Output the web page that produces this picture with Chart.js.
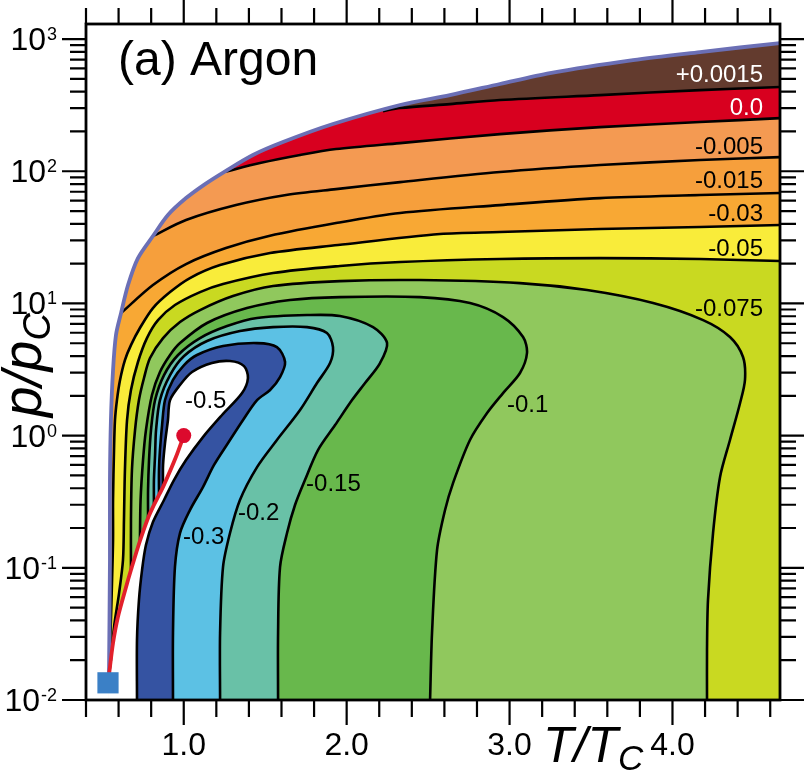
<!DOCTYPE html>
<html>
<head>
<meta charset="utf-8">
<title>Argon</title>
<script src="https://cdn.jsdelivr.net/npm/chart.js@4.4.1/dist/chart.umd.min.js"></script>
<style>
  html, body { margin: 0; padding: 0; background: #fff; }
  canvas { display: block; }
</style>
</head>
<body>
<canvas id="chart" width="804" height="781"></canvas>
<script>
// Values: each point is [T/Tc, log10(p/pc)]

// axis ranges and ticks
const xMin = 0.4, xMax = 4.66;
const yMin = 0.01, yMax = 1300;
const xMajorTicks = [1, 2, 3, 4];
const xTickLabels = ['1.0', '2.0', '3.0', '4.0'];
const xMinorTicks = [0.4, 0.6, 0.8, 1.2, 1.4, 1.6, 1.8, 2.2, 2.4, 2.6, 2.8, 3.2, 3.4, 3.6, 3.8, 4.2, 4.4, 4.6];
const yMajorTicks = [0.01, 0.1, 1, 10, 100, 1000];
const yTickExponents = ['-2', '-1', '0', '1', '2', '3'];

// upper boundary (melting line) and the vapour pressure line
const envelope = [[0.541, -1.811], [0.547, -0.941], [0.547, -0.336], [0.553, 0.118], [0.566, 0.496], [0.584, 0.761],
  [0.615, 0.927], [0.658, 1.139], [0.719, 1.343], [0.811, 1.510], [0.903, 1.669], [1.014, 1.797], [1.131, 1.903],
  [1.247, 1.994], [1.425, 2.123], [1.609, 2.221], [1.916, 2.357], [2.328, 2.501], [2.634, 2.576], [2.941, 2.660],
  [3.248, 2.743], [3.758, 2.841], [4.169, 2.902], [4.660, 2.970]];
const satLine = [[0.541, -1.811], [0.566, -1.569], [0.596, -1.372], [0.646, -1.145], [0.676, -1.017], [0.731, -0.797],
  [0.781, -0.623], [0.817, -0.525], [0.848, -0.449], [0.873, -0.389], [0.952, -0.162], [1.0, 0.0]];
const triplePoint = [0.535, -1.87];
const criticalPoint = [1.0, 0.0];

// contour lines, top to bottom
const c0015 = [[2.223, 2.455], [2.328, 2.478], [2.634, 2.508], [2.941, 2.539], [3.555, 2.576], [4.169, 2.614], [4.660, 2.637]];
const c0 = [[1.247, 1.994], [1.468, 2.062], [1.714, 2.123], [1.935, 2.168], [2.328, 2.213], [2.941, 2.281], [3.555, 2.334],
  [4.169, 2.372], [4.660, 2.402]];
const c005 = [[0.811, 1.510], [1.014, 1.631], [1.321, 1.744], [1.628, 1.820], [1.935, 1.865], [2.328, 1.918], [2.941, 1.994],
  [3.555, 2.047], [4.169, 2.085], [4.660, 2.107]];
const c015 = [[0.615, 0.927], [0.811, 1.139], [1.014, 1.298], [1.259, 1.419], [1.523, 1.510], [1.935, 1.608], [2.328, 1.684],
  [2.941, 1.744], [3.555, 1.797], [4.169, 1.820], [4.660, 1.835]];
const c03 = [[0.541, -1.811], [0.547, -1.622], [0.553, -1.395], [0.560, -1.092], [0.566, -0.790], [0.566, -0.487],
  [0.572, -0.109], [0.578, 0.118], [0.590, 0.269], [0.609, 0.421], [0.639, 0.572], [0.676, 0.685], [0.731, 0.814],
  [0.811, 0.965], [0.916, 1.086], [1.038, 1.192], [1.223, 1.290], [1.530, 1.381], [1.947, 1.442], [2.573, 1.525],
  [2.941, 1.540], [3.555, 1.563], [4.169, 1.578], [4.660, 1.593]];
const c05 = [[0.541, -1.811], [0.553, -1.697], [0.572, -1.448], [0.603, -1.191], [0.627, -0.941], [0.633, -0.638],
  [0.639, -0.260], [0.652, 0.118], [0.676, 0.345], [0.719, 0.557], [0.774, 0.738], [0.842, 0.874], [0.946, 0.988],
  [1.100, 1.086], [1.241, 1.147], [1.548, 1.230], [1.959, 1.283], [2.328, 1.313], [2.941, 1.336], [3.555, 1.343],
  [4.169, 1.336], [4.660, 1.321]];
const c075 = [[0.676, -1.017], [0.676, -0.638], [0.682, -0.260], [0.701, 0.042], [0.725, 0.269], [0.756, 0.436],
  [0.793, 0.587], [0.873, 0.738], [0.977, 0.859], [1.100, 0.950], [1.302, 1.056], [1.548, 1.132], [1.959, 1.169],
  [2.450, 1.177], [3.064, 1.154], [3.476, 1.101], [3.881, 1.003], [4.188, 0.874], [4.353, 0.746], [4.433, 0.595],
  [4.445, 0.421], [4.415, 0.247], [4.353, -0.033], [4.292, -0.313], [4.249, -0.737], [4.218, -1.244], [4.212, -1.622],
  [4.212, -2.0]];
const c10 = [[0.731, -0.797], [0.735, -0.487], [0.750, -0.185], [0.768, 0.042], [0.805, 0.307], [0.854, 0.481],
  [0.916, 0.610], [0.977, 0.700], [1.143, 0.852], [1.388, 0.965], [1.652, 1.026], [1.959, 1.048], [2.450, 1.048],
  [2.757, 1.003], [2.960, 0.897], [3.083, 0.746], [3.107, 0.625], [3.064, 0.474], [2.960, 0.322], [2.862, 0.171],
  [2.757, -0.033], [2.653, -0.359], [2.604, -0.563], [2.555, -0.865], [2.524, -1.493], [2.512, -2.0]];
const c15 = [[0.781, -0.623], [0.781, -0.412], [0.787, -0.185], [0.799, 0.042], [0.824, 0.269], [0.879, 0.458],
  [0.965, 0.610], [1.100, 0.738], [1.266, 0.829], [1.450, 0.890], [1.757, 0.912], [1.959, 0.905], [2.162, 0.821],
  [2.248, 0.700], [2.205, 0.549], [2.113, 0.398], [2.033, 0.269], [1.929, 0.080], [1.824, -0.109], [1.744, -0.336],
  [1.683, -0.525], [1.634, -0.737], [1.591, -0.994], [1.579, -1.493], [1.579, -2.0]];
const c20 = [[0.817, -0.525], [0.817, -0.336], [0.824, -0.147], [0.830, 0.042], [0.854, 0.269], [0.916, 0.458],
  [1.002, 0.602], [1.143, 0.716], [1.345, 0.791], [1.548, 0.821], [1.757, 0.821], [1.879, 0.776], [1.916, 0.670],
  [1.898, 0.549], [1.818, 0.398], [1.714, 0.194], [1.572, -0.033], [1.450, -0.238], [1.345, -0.487], [1.284, -0.737],
  [1.241, -0.994], [1.223, -1.493], [1.223, -2.0]];
const c30 = [[0.848, -0.449], [0.848, -0.260], [0.854, -0.109], [0.867, 0.080], [0.885, 0.269], [0.934, 0.421],
  [1.002, 0.534], [1.081, 0.610], [1.241, 0.678], [1.450, 0.700], [1.572, 0.670], [1.622, 0.557], [1.591, 0.443],
  [1.530, 0.345], [1.450, 0.269], [1.364, 0.118], [1.272, -0.056], [1.186, -0.222], [1.118, -0.389], [1.038, -0.563],
  [0.977, -0.737], [0.946, -0.994], [0.934, -1.493], [0.934, -2.0]];
const c50 = [[0.873, -0.389], [0.873, -0.222], [0.885, -0.056], [0.903, 0.118], [0.916, 0.269], [0.977, 0.383],
  [1.051, 0.481], [1.173, 0.549], [1.284, 0.564], [1.370, 0.526], [1.394, 0.436], [1.358, 0.322], [1.235, 0.156],
  [1.118, -0.011], [1.014, -0.185], [0.940, -0.336], [0.879, -0.487], [0.811, -0.654], [0.768, -0.828], [0.744, -1.017],
  [0.725, -1.244], [0.713, -1.546], [0.713, -2.0]];

// contour labels and where they sit
const labelText = ['+0.0015', '0.0', '-0.005', '-0.015', '-0.03', '-0.05', '-0.075', '-0.1', '-0.15', '-0.2', '-0.3', '-0.5'];
const labelAt = [[4.556, 2.675], [4.556, 2.425], [4.556, 2.130], [4.556, 1.873], [4.556, 1.623], [4.556, 1.359],
  [4.556, 0.905], [2.984, 0.178], [1.751, -0.419], [1.333, -0.638], [0.995, -0.820], [1.008, 0.209]];

// colours of the band under each contour
const topColor = '#633b2e';
const bandColors = ['#d8001f', '#f49a52', '#f69f3c', '#f8a834', '#f9ec3a', '#c9d921',
  '#90c85d', '#68b84c', '#69c1a7', '#5cc1e4', '#3553a2', '#ffffff'];

const FONT = '"Liberation Sans", Arial, Helvetica, sans-serif';

const toXY = pts => pts.map(([t, lg]) => ({x: t, y: Math.pow(10, lg)}));
const twice = pts => pts.flatMap(p => [p, p]);

// band below a contour that starts on the melting line
function bandFromEdge(line) {
    const c = toXY(line);
    const last = c[c.length - 1];
    return [...c, last, ...twice([{x: xMax, y: yMin}, {x: xMin, y: yMin}, {x: xMin, y: c[0].y}])];
}

// band below a contour that starts at the triple point
function bandFromBottom(line) {
    const c = toXY(line);
    const last = c[c.length - 1];
    return [...c, last, ...twice([{x: xMax, y: yMin}, {x: c[0].x, y: yMin}])];
}

// closed loop ending on the vapour pressure line
function bandLoop(line) {
    const c = toXY(line);
    const last = c[c.length - 1];
    const below = toXY(satLine.filter(p => p[1] < line[0][1] - 1e-6));
    return [...c, last, ...twice([{x: satLine[0][0], y: yMin}, ...below])];
}

const layers = [];
const poly = (data, color, tension) => layers.push({
    data, backgroundColor: color, borderColor: 'transparent', borderWidth: 0,
    fill: 'shape', tension, pointRadius: 0
});
const stroke = (data, color, width) => layers.push({
    data, borderColor: color, borderWidth: width, fill: false, tension: 0.3, pointRadius: 0
});

const contours = [c0015, c0, c005, c015, c03, c05, c075, c10, c15, c20, c30, c50];

poly(twice([{x: xMin, y: yMin}, {x: xMax, y: yMin}, {x: xMax, y: yMax}, {x: xMin, y: yMax}]), topColor, 0);
contours.forEach((line, i) => {
    let data;
    if (i < 4) data = bandFromEdge(line);
    else if (i < 6) data = bandFromBottom(line);
    else data = bandLoop(line);
    poly(data, bandColors[i], 0.3);
});

// white outside the melting line
const envRev = toXY(envelope).reverse();
const envEnd = envRev[envRev.length - 1];
poly([...envRev, envEnd, ...twice([{x: envEnd.x, y: yMin}, {x: xMin, y: yMin}, {x: xMin, y: yMax}, {x: xMax, y: yMax}])], '#ffffff', 0.3);

contours.forEach(line => stroke(toXY(line), '#000000', 2.6));
stroke(toXY(envelope), '#6b6fb5', 3.8);
stroke(toXY(satLine), '#e2202b', 3.8);

layers.push({
    data: toXY([triplePoint]), showLine: false, pointStyle: 'rect', pointRadius: 15,
    pointBackgroundColor: '#3b80c6', pointBorderWidth: 0
});
layers.push({
    data: toXY([criticalPoint]), showLine: false, pointStyle: 'circle', pointRadius: 7.5,
    pointBackgroundColor: '#dc0a2d', pointBorderWidth: 0
});

// first layer is painted first
layers.forEach((ds, i) => { ds.order = layers.length - i; });

const figureText = {
    id: 'figureText',
    afterDatasetsDraw(chart) {
        const {ctx, scales: {x, y}} = chart;
        ctx.save();
        ctx.font = `24px ${FONT}`;
        ctx.textBaseline = 'alphabetic';
        labelText.forEach((txt, i) => {
            ctx.fillStyle = i < 2 ? '#ffffff' : '#000000';
            ctx.textAlign = i < 7 ? 'right' : 'left';
            ctx.fillText(txt, x.getPixelForValue(labelAt[i][0]), y.getPixelForValue(Math.pow(10, labelAt[i][1])));
        });
        ctx.restore();
    },
    afterDraw(chart) {
        const {ctx, chartArea: a, scales: {x, y}} = chart;
        ctx.save();
        ctx.strokeStyle = '#000';
        ctx.lineWidth = 2.2;
        ctx.beginPath();
        const xTick = (v, len, up) => {
            const px = x.getPixelForValue(v);
            ctx.moveTo(px, a.bottom); ctx.lineTo(px, a.bottom + len);
            ctx.moveTo(px, a.top); ctx.lineTo(px, a.top - up);
        };
        const yTick = (v, len) => {
            const py = y.getPixelForValue(v);
            ctx.moveTo(a.left - len, py); ctx.lineTo(a.left, py);
            ctx.moveTo(a.right, py); ctx.lineTo(a.right + len, py);
        };
        xMinorTicks.forEach(v => xTick(v, 17, 16));
        xMajorTicks.forEach(v => xTick(v, 25, 24));
        const yMinorTicks = [];
        yMajorTicks.forEach(d => { for (let m = 2; m <= 9; m++) if (m * d <= yMax) yMinorTicks.push(m * d); });
        yMinorTicks.forEach(v => yTick(v, 16));
        yMajorTicks.forEach(v => yTick(v, 24));
        ctx.stroke();

        ctx.lineWidth = 2.8;
        ctx.strokeRect(a.left, a.top, a.right - a.left, a.bottom - a.top);

        ctx.fillStyle = '#000';
        ctx.textBaseline = 'alphabetic';

        // x tick labels
        ctx.font = `32px ${FONT}`;
        ctx.textAlign = 'center';
        xMajorTicks.forEach((v, i) => ctx.fillText(xTickLabels[i], x.getPixelForValue(v), a.bottom + 55));

        // y tick labels, 10 with a raised exponent
        ctx.textAlign = 'left';
        yMajorTicks.forEach((v, i) => {
            const py = y.getPixelForValue(v);
            ctx.font = `18px ${FONT}`;
            const supW = ctx.measureText(yTickExponents[i]).width;
            ctx.fillText(yTickExponents[i], 57 - supW, py + 1);
            ctx.font = `32px ${FONT}`;
            const baseW = ctx.measureText('10').width;
            ctx.fillText('10', 57 - supW - baseW - 1, py + 11);
        });

        // panel title
        ctx.font = `48px ${FONT}`;
        ctx.fillText('(a) Argon', a.left + 32, a.top + 51);

        // x axis title
        ctx.font = `italic 50px ${FONT}`;
        ctx.fillText('T/T', 543, 762);
        const tw = ctx.measureText('T/T').width;
        ctx.font = `italic 35px ${FONT}`;
        ctx.fillText('C', 543 + tw, 770);

        // y axis title
        ctx.save();
        ctx.translate(41, 417);
        ctx.rotate(-Math.PI / 2);
        ctx.font = `italic 55px ${FONT}`;
        ctx.fillText('p/p', 0, 0);
        const pw = ctx.measureText('p/p').width;
        ctx.font = `italic 38px ${FONT}`;
        ctx.fillText('C', pw, 9);
        ctx.restore();

        ctx.restore();
    }
};

new Chart(document.getElementById('chart'), {
    type: 'line',
    data: { datasets: layers },
    options: {
        responsive: false,
        animation: false,
        events: [],
        layout: { padding: { left: 86, right: 24, top: 24, bottom: 81 } },
        plugins: { legend: { display: false }, tooltip: { enabled: false } },
        scales: {
            x: { type: 'linear', min: xMin, max: xMax, display: false },
            y: { type: 'logarithmic', min: yMin, max: yMax, display: false }
        }
    },
    plugins: [figureText]
});
</script>
</body>
</html>
